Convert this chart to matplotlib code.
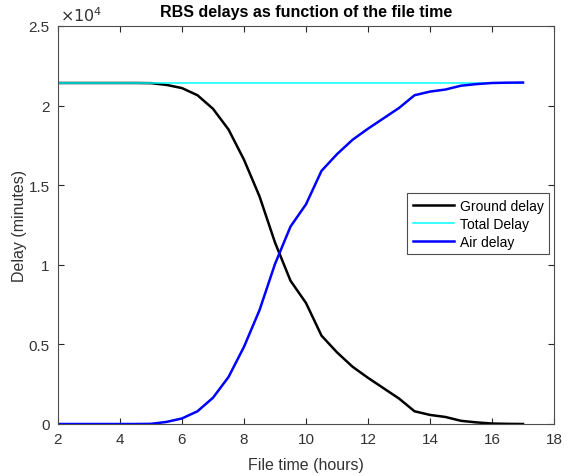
import matplotlib
matplotlib.use("Agg")
import matplotlib.pyplot as plt
from matplotlib.ticker import FuncFormatter

plt.rcParams['font.family'] = ['Liberation Sans', 'DejaVu Sans']

file_time = [2, 2.5, 3, 3.5, 4, 4.5, 5, 5.5, 6, 6.5, 7, 7.5, 8, 8.5, 9, 9.5,
             10, 10.5, 11, 11.5, 12, 12.5, 13, 13.5, 14, 14.5, 15, 15.5, 16, 16.5, 17]
ground_delay = [21420, 21420, 21420, 21420, 21420, 21420, 21410, 21300, 21100, 20650,
                19800, 18500, 16600, 14300, 11400, 9000, 7600, 5550, 4500, 3600,
                2900, 2250, 1600, 800, 570, 440, 200, 100, 30, 10, 0]
total_delay = [21420] * len(file_time)
air_delay = [0, 0, 0, 0, 0, 0, 10, 130, 350, 800, 1650, 2950, 4850, 7150, 10050, 12400,
             13800, 15900, 16950, 17850, 18550, 19200, 19850, 20650, 20880, 21010,
             21250, 21350, 21420, 21440, 21450]

fig = plt.figure(figsize=(5.71, 4.77), dpi=100)
ax = fig.add_axes([58/571, 1 - 425/477, (554-58)/571, (425-27)/477])

ax.plot(file_time, ground_delay, color='black', lw=1.8, label='Ground delay')
ax.plot(file_time, total_delay, color='cyan', lw=1.1, label='Total Delay')
ax.plot(file_time, air_delay, color='blue', lw=1.8, label='Air delay')

ax.set_xlim(2, 18)
ax.set_ylim(0, 25000)
ax.set_xticks([2, 4, 6, 8, 10, 12, 14, 16, 18])
ax.set_yticks([0, 5000, 10000, 15000, 20000, 25000])
ax.yaxis.set_major_formatter(FuncFormatter(lambda v, p: ('%g' % (v / 1e4))))

axc = (0.15, 0.15, 0.15)
for s in ax.spines.values():
    s.set_color((0.3, 0.3, 0.3))
    s.set_linewidth(0.8)
ax.tick_params(direction='in', top=True, right=True, length=4, width=0.8,
               colors=axc, labelsize=11, labelcolor=(0.2, 0.2, 0.2), pad=6)

ax.text(0.005, 1.004, r'$\times10^{4}$', transform=ax.transAxes, ha='left', va='bottom',
        fontsize=11.5, color=(0.2, 0.2, 0.2))
ax.set_title('RBS delays as function of the file time', fontsize=11.5,
             fontweight='bold', pad=7)
ax.set_xlabel('File time (hours)', fontsize=11.5, color=(0.2, 0.2, 0.2), labelpad=8)
ax.set_ylabel('Delay (minutes)', fontsize=11.5, color=(0.2, 0.2, 0.2), labelpad=1)

leg = ax.legend(loc='upper left', bbox_to_anchor=((407-58)/496, 1 - (194-27)/398),
                fontsize=10, frameon=True, fancybox=False, framealpha=1,
                edgecolor=(0.3, 0.3, 0.3), borderaxespad=0, handlelength=3,
                labelspacing=0.3, handletextpad=0.4, borderpad=0.4)
leg.get_frame().set_linewidth(0.8)

fig.savefig('out.png', dpi=100)
